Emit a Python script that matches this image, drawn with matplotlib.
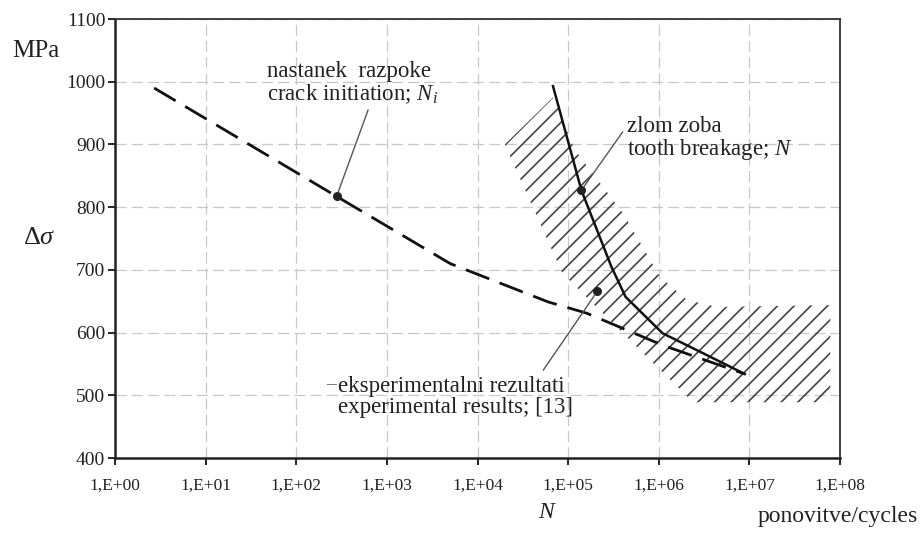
import numpy as np
import matplotlib
matplotlib.use("Agg")
import matplotlib.pyplot as plt

plt.rcParams['font.family'] = ['Liberation Serif', 'DejaVu Serif']
plt.rcParams['mathtext.fontset'] = 'custom'
plt.rcParams['mathtext.rm'] = 'Liberation Serif'
plt.rcParams['mathtext.it'] = 'Liberation Serif:italic'
plt.rcParams['hatch.color'] = '#444444'
plt.rcParams['hatch.linewidth'] = 1.2

# crack initiation curve (dashed)
init_n = [2.7, 280, 5000, 6e4, 1.6e5, 1.1e6, 8.9e6]
init_s = [990, 817, 710, 649, 631, 580, 534]

# tooth breakage curve (solid)
break_n = [6.8e4, 1.4e5, 3.0e5, 4.3e5, 1.1e6, 2.9e6, 8.9e6]
break_s = [993, 827, 705, 657, 599, 569, 534]

# scatter band of experimental results (outline of hatched area)
band_n = [2.0e4, 6.8e4, 1.19e5, 4.0e5, 6.7e5, 1.03e6, 2.05e6, 4.4e6, 7.8e7,
          7.8e7, 2.4e6, 9.6e5, 8.6e4]
band_s = [900, 975, 891, 791, 736, 689, 652, 641, 644,
          489, 489, 545, 695]

# marked points
pt_init = (280, 818)
pt_break = (1.4e5, 827)
pt_exp = (2.1e5, 666)

xticks = [10.0**k for k in range(9)]
xlabels = ["1,E+%02d" % k for k in range(9)]
yticks = list(range(400, 1101, 100))

fig = plt.figure(figsize=(9.21, 5.37), dpi=100)
ax = fig.add_axes([0.1249, 0.147, 0.7872, 0.8176])

ax.set_xscale('log')
ax.set_xlim(1, 1e8)
ax.set_ylim(400, 1100)

ax.grid(True, which='major', color='#c8c8c8', linestyle=(0, (9, 4)), linewidth=0.9)
ax.set_axisbelow(True)

ax.fill(band_n, band_s, facecolor='none', edgecolor='#444444', hatch='//', linewidth=0)

ax.plot(init_n, init_s, color='#111111', linewidth=2.0, linestyle=(0, (9, 4)))
ax.plot(break_n, break_s, color='#111111', linewidth=1.8)

for p in (pt_init, pt_break, pt_exp):
    ax.plot(p[0], p[1], 'o', color='#222222', markersize=5.5)

# multi-line text: baseline refers to the last line
txt = dict(fontsize=16.5, color='#222222', ha='left', va='baseline', linespacing=0.98)
line = dict(arrowstyle='-', color='#555555', lw=1.0, shrinkA=0, shrinkB=3)

ax.text(47, 971, "nastanek  razpoke\ncrack initiation; $N_i$", **txt)
ax.text(4.5e5, 883, "zlom zoba\ntooth breakage; $N$", **txt)
ax.text(290, 472, "eksperimentalni rezultati\nexperimental results; [13]", **txt)
ax.text(272, 510, "\u2013", fontsize=14, color='#555555', ha='right', va='baseline')

ax.annotate("", xy=pt_init, xytext=(620, 955), arrowprops=line)
ax.annotate("", xy=pt_break, xytext=(4.0e5, 920), arrowprops=line)
ax.annotate("", xy=pt_exp, xytext=(5.3e4, 540), arrowprops=line)

ax.set_xticks(xticks)
ax.set_xticklabels(xlabels)
ax.minorticks_off()
ax.set_yticks(yticks)
ax.tick_params(axis='x', labelsize=12.5, pad=9, length=5, width=1.2, direction='out')
ax.tick_params(axis='y', labelsize=14, pad=2, length=5, width=1.2, direction='out')
for lab in ax.get_xticklabels() + ax.get_yticklabels():
    lab.set_color('#222222')

for side in ('left', 'bottom'):
    ax.spines[side].set_linewidth(1.8)
    ax.spines[side].set_color('#222222')
for side in ('top', 'right'):
    ax.spines[side].set_linewidth(1.3)
    ax.spines[side].set_color('#333333')

fig.text(0.039, 0.905, "MPa", fontsize=18, color='#222222', ha='center', va='center')
fig.text(0.043, 0.557, "$\\Delta\\sigma$", fontsize=19, color='#222222', ha='center', va='center')
fig.text(0.595, 0.035, "$N$", fontsize=17, color='#222222', ha='center', va='baseline')
fig.text(0.997, 0.028, "ponovitve/cycles", fontsize=17, color='#222222', ha='right', va='baseline')

fig.savefig("out.png", dpi=100)
